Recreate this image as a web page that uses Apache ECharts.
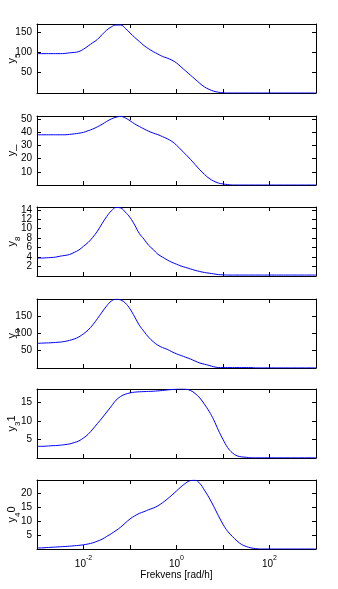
<!DOCTYPE html>
<html>
<head>
<meta charset="utf-8">
<script src="https://cdn.jsdelivr.net/npm/echarts@6/dist/echarts.min.js"></script>
<style>
html,body{margin:0;padding:0;background:#fff;}
#c{width:338px;height:589px;}
</style>
</head>
<body>
<div id="c"></div>
<script>
// log10 of frequency [rad/h]
const freqExp = [-3.0,-2.9,-2.8,-2.7,-2.6,-2.5,-2.4,-2.3,-2.2,-2.1,-2.0,-1.9,-1.8,-1.7,-1.6,-1.5,-1.4,-1.3,-1.2,-1.1,-1.0,-0.9,-0.8,-0.7,-0.6,-0.5,-0.4,-0.3,-0.2,-0.1,0.0,0.1,0.2,0.3,0.4,0.5,0.6,0.7,0.8,0.9,1.0,1.1,1.2,1.3,1.4,1.5,1.6,1.7,1.8,1.9,2.0,2.1,2.2,2.3,2.4,2.5,2.6,2.7,2.8,2.9,3.0];

const y5 = [97,97,97,97,97,97,97.5,
  99,100,102,108,116,124,132,144,155,163,167.5,167.5,159,148,137,127,117,109,102,96,90,86,81,74,64,54,44,34,24,15,9,4.5,2,0.5,
  0,0,0,0,0,0,0,0,0,0,0,0,0,0,0,0,0,0,0,0];

const y7 = [38.2,38.2,38.2,38.2,38.2,38.2,38.2,
  38.5,38.9,39.4,40.1,41.3,42.6,44.3,46.2,48.4,50.3,51.6,52.2,51.0,48.9,46.5,44.5,42.7,40.9,39.5,38.3,36.8,35.2,33.2,30.3,26.7,23.2,19.5,15.6,11.6,8.1,5.1,3.0,1.5,0.8,0.3,
  0,0,0,0,0,0,0,0,0,0,0,0,0,0,0,0,0,0,0];

const y8 = [3.8,3.8,3.85,3.9,4.0,4.2,4.35,4.55,5.0,5.5,6.3,7.1,8.2,9.5,11.1,12.6,13.8,14.5,14.4,13.5,12.4,10.8,9.0,7.8,6.5,5.6,4.6,4.0,3.4,2.9,2.5,2.1,1.8,1.5,1.2,0.95,0.75,0.6,0.45,0.3,0.25,
  0.2,0.2,0.2,0.2,0.2,0.2,0.2,0.2,0.2,0.2,0.2,0.2,0.2,0.2,0.2,0.2,0.2,0.2,0.2,0.2];

const y9 = [71,72,72.5,73,74,75,77,80,84,90,99,110,125,143,162,180,194,199,197,188,171,148,124,106,89,76,66,59,54,47,41,36,31,26,20,14.5,11,7.5,3.5,1.5,
  1.2,1.2,1.2,1.2,1.2,1.2,1.2,
  0.3,0.3,0.3,0.3,0.3,0.3,0.3,0.3,0.3,0.3,0.3,0.3,0.3,0.3];

const y31 = [3.15,3.15,3.2,3.3,3.35,3.45,3.6,3.8,4.15,4.6,5.4,6.4,7.8,9.3,10.8,12.4,14.0,15.6,16.6,17.2,17.55,17.75,17.85,17.9,17.95,18.0,18.1,18.2,18.35,18.45,18.55,18.6,18.55,18.2,17.4,16.2,14.5,12.6,10.3,7.5,5.0,2.8,1.4,0.6,0.3,0.2,
  0.05,0.05,0.05,0.05,0.05,0.05,0.05,0.05,0.05,0.05,0.05,0.05,0.05,0.05,0.05];

const y40 = [0.35,0.4,0.5,0.6,0.7,0.8,0.9,1.0,1.15,1.3,1.5,1.8,2.2,2.8,3.5,4.5,5.5,6.6,7.8,9.3,10.7,11.8,12.7,13.3,14.0,14.6,15.4,16.5,17.8,19.2,20.7,22.2,23.5,24.4,24.5,23.4,21.0,18.3,15.2,11.9,8.8,6.3,4.5,2.9,1.6,0.9,0.4,0.15,
  0,0,0,0,0,0,0,0,0,0,0,0,0];

const seriesList = [y5, y7, y8, y9, y31, y40];
const yNames = ['{n|y}{s|5}', '{n|y_}', '{n|y}{s|8}', '{n|y}{s|9}', '{n|y}{s|3}{n|1}', '{n|y}{s|4}{n|0}'];
const yMax = [170, 52.5, 14.6, 199.7, 18.6, 24.6];
const yInterval = [50, 10, 2, 50, 5, 5];
const xTickExps = [-2, 0, 2];
const xTitle = 'Frekvens [rad/h]';

const gridTops = [24, 116, 207, 299, 389, 480];
const FONT = 'Liberation Sans, Arial, Helvetica, sans-serif';
const black = '#000';

const grids = [], xAxes = [], yAxes = [], series = [];
gridTops.forEach((top, i) => {
  grids.push({left: 37, right: 22, top: top, height: 69, containLabel: false, outerBoundsMode: 'none'});
  const isLast = i === gridTops.length - 1;
  const xBase = {
    type: 'value', gridIndex: i, min: -3, max: 3, interval: 1,
    axisLine: {show: true, onZero: false, lineStyle: {color: black, width: 1}},
    axisTick: {show: true, inside: true, length: 4, lineStyle: {color: black, width: 1}},
    splitLine: {show: false}
  };
  xAxes.push(Object.assign({}, xBase, {
    position: 'bottom',
    axisLabel: {
      show: isLast, margin: 6, color: black, fontFamily: FONT, fontSize: 10,
      formatter: v => xTickExps.indexOf(v) >= 0 ? '{b|10}{s|' + v + '}' : '',
      rich: {
        b: {fontSize: 10, fontFamily: FONT, color: black, verticalAlign: 'bottom', lineHeight: 14},
        s: {fontSize: 7, fontFamily: FONT, color: black, verticalAlign: 'top', lineHeight: 14, padding: [0, 0, 6, 0]}
      }
    },
    name: isLast ? xTitle : '',
    nameLocation: 'middle', nameGap: 21, nameMoveOverlap: false,
    nameTextStyle: {color: black, fontFamily: FONT, fontSize: 10}
  }));
  xAxes.push(Object.assign({}, xBase, {position: 'top', axisLabel: {show: false}}));

  const yBase = {
    type: 'value', gridIndex: i, min: 0, max: yMax[i], interval: yInterval[i],
    axisLine: {show: true, onZero: false, lineStyle: {color: black, width: 1}},
    axisTick: {show: true, inside: true, length: 4, lineStyle: {color: black, width: 1}},
    splitLine: {show: false}
  };
  yAxes.push(Object.assign({}, yBase, {
    position: 'left',
    axisLabel: {
      show: true, margin: 5, color: black, fontFamily: FONT, fontSize: 10,
      formatter: v => (v > 0 && v % yInterval[i] === 0 && v <= yMax[i]) ? String(v) : ''
    },
    name: yNames[i], nameLocation: 'middle', nameGap: 15, nameRotate: 90, nameMoveOverlap: false,
    nameTextStyle: {
      color: black, fontFamily: FONT,
      rich: {
        n: {fontSize: 11, fontFamily: FONT, color: black, lineHeight: 16, verticalAlign: 'top'},
        s: {fontSize: 8, fontFamily: FONT, color: black, lineHeight: 16, verticalAlign: 'bottom'}
      }
    }
  }));
  yAxes.push(Object.assign({}, yBase, {position: 'right', axisLabel: {show: false}}));

  series.push({
    type: 'line', xAxisIndex: 2 * i, yAxisIndex: 2 * i,
    data: freqExp.map((f, k) => [f, seriesList[i][k]]),
    showSymbol: false, smooth: 0.4,
    lineStyle: {color: '#0000ff', width: 1},
    itemStyle: {color: '#0000ff'},
    clip: true
  });
});

const chart = echarts.init(document.getElementById('c'), null, {renderer: 'canvas'});
chart.setOption({
  animation: false,
  backgroundColor: '#fff',
  grid: grids, xAxis: xAxes, yAxis: yAxes, series: series
});
</script>
</body>
</html>
